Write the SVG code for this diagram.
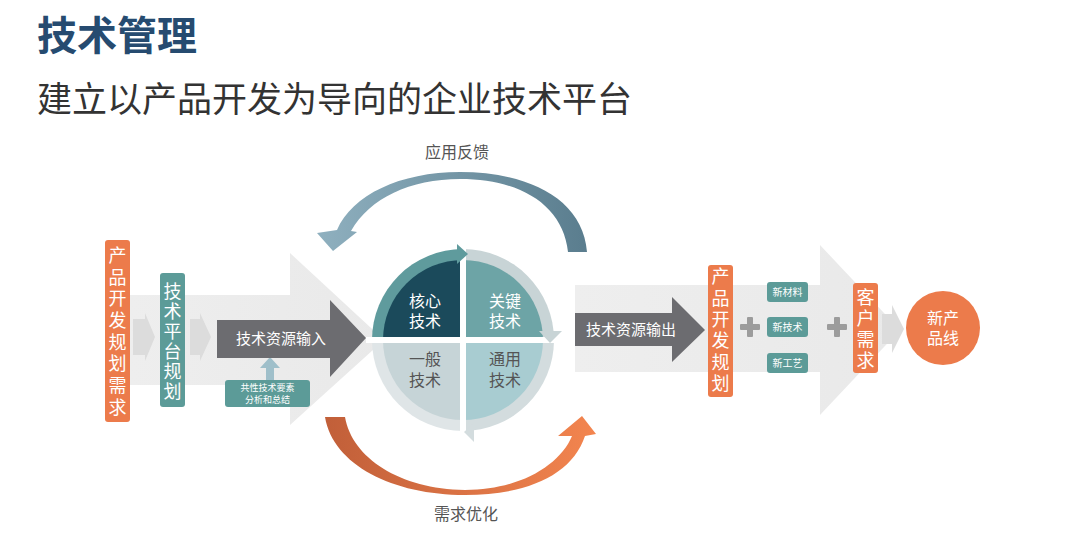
<svg xmlns="http://www.w3.org/2000/svg" width="1080" height="538" viewBox="0 0 1080 538">
  <defs>
    <linearGradient id="gTop" x1="0" y1="0" x2="1" y2="0">
      <stop offset="0" stop-color="#8fb0bf"/>
      <stop offset="1" stop-color="#5a7d8e"/>
    </linearGradient>
    <linearGradient id="gBot" x1="0" y1="0" x2="1" y2="0">
      <stop offset="0" stop-color="#c15f39"/>
      <stop offset="1" stop-color="#f3854f"/>
    </linearGradient>
    <linearGradient id="gBand" x1="0" y1="0" x2="1" y2="0">
      <stop offset="0" stop-color="#eeeeee"/>
      <stop offset="1" stop-color="#e9e9e9"/>
    </linearGradient>
  </defs>
  <style>
    text { font-family: "Noto Sans CJK SC", "Noto Sans", sans-serif; }
    .title { font-size: 40px; font-weight: bold; fill: #264b70; }
    .sub { font-size: 35px; fill: #333333; }
    .lbl { font-size: 16px; fill: #555555; text-anchor: middle; }
    .vt { font-family: "Liberation Sans", "Noto Sans CJK SC", sans-serif; font-size: 18px; fill: #ffffff; text-anchor: middle; }
    .wt { fill: #ffffff; text-anchor: middle; }
    .orange { fill: #ec7b4b; }
    .teal { fill: #5c9b98; }
    .dark { fill: #6c6c70; }
    .band { fill: url(#gBand); }
    .chev { fill: #dcdcdc; }
    .plus { fill: #9c9c9c; }
    .q { font-family: "Liberation Sans", "Noto Sans CJK SC", sans-serif; font-size: 16px; text-anchor: middle; }
  </style>
  <rect width="1080" height="538" fill="#ffffff"/>

  <g id="title">
    <text class="title" x="37" y="50">技术管理</text>
    <text class="sub" x="37" y="112">建立以产品开发为导向的企业技术平台</text>
  </g>

  <g id="background">
    <polygon class="band" points="130,295 290,295 290,253 384,340 290,425 290,385 130,385"/>
    <polygon class="band" points="575,285 820,285 820,245 900,330 820,415 820,372 575,372"/>
  </g>

  <g id="connectors">
    <polygon class="chev" points="133,319 145,319 145,313 155,337 145,361 145,355 133,355"/>
    <polygon class="chev" points="190,319 200,319 200,313 211,337 200,361 200,355 190,355"/>
    <polygon class="chev" points="882,314 892,314 892,305 904,329 892,353 892,344 882,344"/>
    <polygon fill="#9fbfca" points="266,381 274,381 274,368 280,368 270,357 260,368 266,368"/>
    <path id="arc-top" fill="url(#gTop)" d="M587,252 L568,252 C563,205 520,179 460,179 C410,179 370,198 351,231 L357,232 L333,251 L317,233 L337,230 C352,195 400,172 460,172 C527,172 583,198 587,252 Z"/>
    <path id="arc-bottom" fill="url(#gBot)" d="M325,417 L345,417 C352,458 400,489 465,490 C520,490 560,465 572,436 L558,436 L582,416 L596,434 L585,436 C572,475 527,495 465,495 C393,495 333,465 325,417 Z"/>
    <text class="lbl" x="457" y="158">应用反馈</text>
    <text class="lbl" x="466" y="520">需求优化</text>
  </g>

  <g id="node-demand">
    <rect class="orange" x="105" y="240" width="25" height="182" rx="3"/>
    <text class="vt" x="117.5" y="262">产</text>
    <text class="vt" x="117.5" y="284">品</text>
    <text class="vt" x="117.5" y="305">开</text>
    <text class="vt" x="117.5" y="327">发</text>
    <text class="vt" x="117.5" y="349">规</text>
    <text class="vt" x="117.5" y="370">划</text>
    <text class="vt" x="117.5" y="392">需</text>
    <text class="vt" x="117.5" y="414">求</text>
  </g>

  <g id="node-platform">
    <rect class="teal" x="160" y="273" width="25" height="134" rx="3"/>
    <text class="vt" font-size="17.5" x="172.5" y="298">技</text>
    <text class="vt" font-size="17.5" x="172.5" y="318">术</text>
    <text class="vt" font-size="17.5" x="172.5" y="338">平</text>
    <text class="vt" font-size="17.5" x="172.5" y="358">台</text>
    <text class="vt" font-size="17.5" x="172.5" y="378">规</text>
    <text class="vt" font-size="17.5" x="172.5" y="398">划</text>
  </g>

  <g id="node-input">
    <polygon class="dark" points="217,320 330,320 330,300 366,338 330,377 330,358 217,358"/>
    <text class="wt" font-size="15" x="281" y="344">技术资源输入</text>
  </g>

  <g id="node-common">
    <rect class="teal" x="225" y="380" width="85" height="27" rx="3"/>
    <text class="wt" font-size="9" x="267.5" y="391">共性技术要素</text>
    <text class="wt" font-size="9" x="267.5" y="403">分析和总结</text>
  </g>

  <g id="node-circle">
    <path fill="#5f9b9d" d="M463,340 L372,340 A91,91 0 0 1 463,249 Z"/>
    <path fill="#1b4a5b" d="M463,340 L383,340 A80,80 0 0 1 463,260 Z"/>
    <path fill="#c8d4d6" d="M463,340 L463,249 A91,91 0 0 1 554,340 Z"/>
    <path fill="#6da4a6" d="M463,340 L463,260 A80,80 0 0 1 543,340 Z"/>
    <path fill="#d3dcde" d="M463,340 L554,340 A91,91 0 0 1 463,431 Z"/>
    <path fill="#a8ccd1" d="M463,340 L543,340 A80,80 0 0 1 463,420 Z"/>
    <path fill="#dfe5e7" d="M463,340 L463,431 A91,91 0 0 1 372,340 Z"/>
    <path fill="#c6d4d7" d="M463,340 L463,420 A80,80 0 0 1 383,340 Z"/>
    <line x1="463" y1="244" x2="463" y2="436" stroke="#ffffff" stroke-width="6"/>
    <line x1="366" y1="340" x2="560" y2="340" stroke="#ffffff" stroke-width="6"/>
    <polygon fill="#5f9b9d" points="457,244 468,254 457,264"/>
    <polygon fill="#c8d4d6" points="539,331 550,343 562,331"/>
    <polygon fill="#d3dcde" points="474,423 464,432 474,442"/>
    <text class="q" fill="#ffffff" x="425" y="307">核心</text>
    <text class="q" fill="#ffffff" x="425" y="327">技术</text>
    <text class="q" fill="#ffffff" x="505" y="307">关键</text>
    <text class="q" fill="#ffffff" x="505" y="327">技术</text>
    <text class="q" fill="#555555" x="425" y="365">一般</text>
    <text class="q" fill="#555555" x="425" y="386">技术</text>
    <text class="q" fill="#555555" x="505" y="365">通用</text>
    <text class="q" fill="#555555" x="505" y="386">技术</text>
  </g>

  <g id="node-output">
    <polygon class="dark" points="575,313 672,313 672,297 705,330 672,362 672,346 575,346"/>
    <text class="wt" font-size="15" x="631" y="335">技术资源输出</text>
  </g>

  <g id="node-product">
    <rect class="orange" x="708" y="265" width="25" height="132" rx="3"/>
    <text class="vt" x="720.5" y="283">产</text>
    <text class="vt" x="720.5" y="305">品</text>
    <text class="vt" x="720.5" y="326">开</text>
    <text class="vt" x="720.5" y="347">发</text>
    <text class="vt" x="720.5" y="369">规</text>
    <text class="vt" x="720.5" y="390">划</text>
  </g>

  <g id="plus1">
    <rect class="plus" x="740" y="324" width="20" height="6" rx="1"/>
    <rect class="plus" x="747" y="317" width="6" height="20" rx="1"/>
  </g>

  <g id="node-material">
    <rect class="teal" x="767" y="282" width="41" height="20" rx="3"/>
    <text class="wt" font-size="10" x="787.5" y="296">新材料</text>
  </g>
  <g id="node-tech">
    <rect class="teal" x="767" y="317" width="41" height="20" rx="3"/>
    <text class="wt" font-size="10" x="787.5" y="331">新技术</text>
  </g>
  <g id="node-process">
    <rect class="teal" x="767" y="353" width="41" height="20" rx="3"/>
    <text class="wt" font-size="10" x="787.5" y="367">新工艺</text>
  </g>

  <g id="plus2">
    <rect class="plus" x="827" y="324" width="20" height="6" rx="1"/>
    <rect class="plus" x="834" y="317" width="6" height="20" rx="1"/>
  </g>

  <g id="node-customer">
    <rect class="orange" x="853" y="283" width="25" height="90" rx="3"/>
    <text class="vt" x="865.5" y="304">客</text>
    <text class="vt" x="865.5" y="325">户</text>
    <text class="vt" x="865.5" y="346">需</text>
    <text class="vt" x="865.5" y="367">求</text>
  </g>

  <g id="node-newline">
    <circle class="orange" cx="943" cy="328" r="37"/>
    <text class="q" fill="#ffffff" x="943" y="324">新产</text>
    <text class="q" fill="#ffffff" x="943" y="344">品线</text>
  </g>
</svg>
